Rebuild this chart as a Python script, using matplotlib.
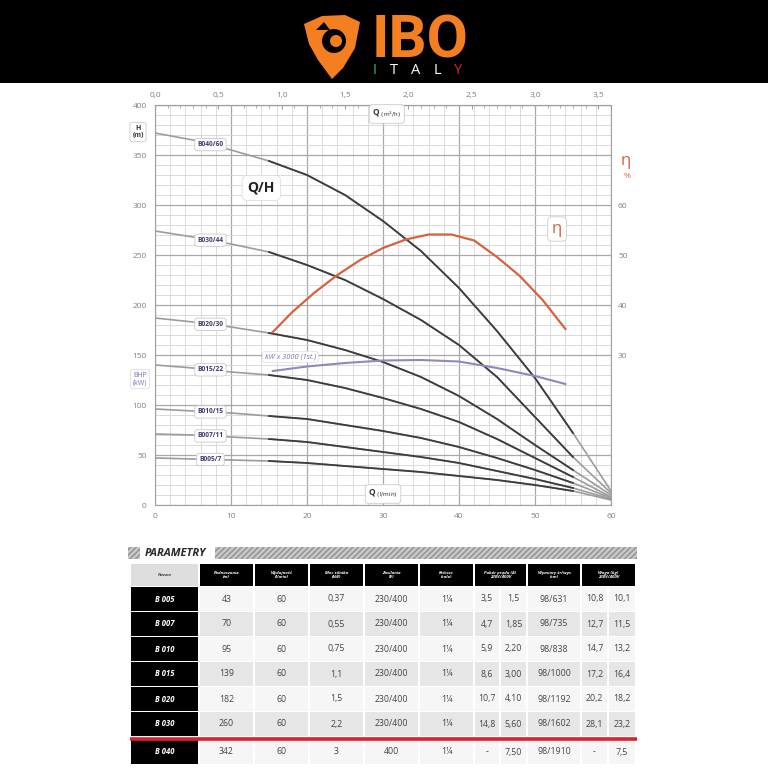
import numpy as np
import matplotlib.pyplot as plt
from matplotlib.patches import Rectangle, Polygon, Circle
from matplotlib.ticker import MultipleLocator, FixedLocator, FuncFormatter

plt.rcParams['font.family'] = ['Open Sans', 'DejaVu Sans']

# flow in l/min and head in m
q = [0, 5, 10, 15, 20, 25, 30, 35, 40, 45, 50, 55, 60]
h_b040 = [372, 365, 355, 344, 330, 310, 284, 254, 217, 174, 127, 72, 14]
h_b030 = [274, 268, 261, 253, 240, 225, 206, 185, 160, 128, 88, 48, 12]
h_b020 = [187, 183, 178, 172, 165, 155, 143, 128, 109, 86, 60, 35, 10]
h_b015 = [140, 137, 133, 130, 125, 117, 107, 96, 83, 66, 47, 28, 8]
h_b010 = [96, 94, 92, 89, 86, 80, 74, 67, 58, 47, 35, 22, 7]
h_b007 = [71, 70, 68, 66, 63, 58, 53, 48, 42, 34, 26, 17, 6]
h_b005 = [47, 46, 45, 44, 42, 39, 36, 33, 29, 25, 20, 14, 5]
pump_names = ['B040/60', 'B030/44', 'B020/30', 'B015/22', 'B010/15', 'B007/11', 'B005/7']
pump_heads = [h_b040, h_b030, h_b020, h_b015, h_b010, h_b007, h_b005]

# efficiency (%) and power curve
eta_q = [15.5, 18, 21, 24, 27, 30, 33, 36, 39, 42, 45, 48, 51, 54]
eta = [34.6, 38.5, 42.5, 46, 49, 51.4, 53.1, 54.1, 54.1, 52.9, 49.6, 45.8, 41, 35.2]
kw_q = [15.5, 20, 25, 30, 35, 40, 45, 50, 54]
kw = [134, 138.5, 142, 144.5, 145, 143.5, 137, 129, 121]

# table
col_heads = ['Nazwa', 'Podnoszenie\n(m)', 'Wydajność\n(l/min)', 'Moc silnika\n(kW)',
             'Zasilanie\n(V)', 'Króciec\n(cale)', 'Pobór prądu (A)\n230V/400V',
             'Wymiary śr/wys\n(cm)', 'Waga (kg)\n230V/400V']
models = ['B 005', 'B 007', 'B 010', 'B 015', 'B 020', 'B 030', 'B 040']
lift = ['43', '70', '95', '139', '182', '260', '342']
flow = ['60', '60', '60', '60', '60', '60', '60']
power = ['0,37', '0,55', '0,75', '1,1', '1,5', '2,2', '3']
supply = ['230/400'] * 6 + ['400']
port = ['1¼'] * 7
amp_230 = ['3,5', '4,7', '5,9', '8,6', '10,7', '14,8', '-']
amp_400 = ['1,5', '1,85', '2,20', '3,00', '4,10', '5,60', '7,50']
dims = ['98/631', '98/735', '98/838', '98/1000', '98/1192', '98/1602', '98/1910']
w_230 = ['10,8', '12,7', '14,7', '17,2', '20,2', '28,1', '-']
w_400 = ['10,1', '11,5', '13,2', '16,4', '18,2', '23,2', '7,5']

fig = plt.figure(figsize=(7.68, 7.68), dpi=100)
W = 768.0

def fx(px):
    return px / W

def fy(py):
    return 1 - py / W

ax = fig.add_axes([fx(155), fy(505), fx(611) - fx(155), fy(105) - fy(505)])
ax.set_xlim(0, 60)
ax.set_ylim(0, 400)
ax.xaxis.set_major_locator(MultipleLocator(10))
ax.xaxis.set_minor_locator(MultipleLocator(2))
ax.yaxis.set_major_locator(MultipleLocator(50))
ax.yaxis.set_minor_locator(MultipleLocator(10))
ax.grid(which='minor', color='#d4d4d4', lw=0.6)
ax.grid(which='major', color='#a8a8a8', lw=0.9)
ax.set_axisbelow(True)
for s in ax.spines.values():
    s.set_color('#a0a0a0')
    s.set_linewidth(0.8)
ax.tick_params(which='both', length=0, labelsize=6, labelcolor='#808080', pad=6)

for name, h in zip(pump_names, pump_heads):
    ax.plot(q, h, color='#9c9c9c', lw=1.2, zorder=3)
    ax.plot(q[3:12], h[3:12], color='#3c3c3c', lw=1.3, zorder=4)
    ax.text(7.3, np.interp(7.3, q, h), name, fontsize=4.8, color='#3a3a6e',
            fontweight='bold', ha='center', va='center', zorder=6,
            bbox=dict(boxstyle='round,pad=0.4', fc='white', ec='#c8c8c8', lw=0.6))

ax.plot(kw_q, kw, color='#9186bf', lw=1.5, zorder=5)
ax.text(17.8, 148, 'kW x 3000 (1st.)', fontsize=5.3, color='#7a6fb0', style='italic',
        ha='center', va='center', zorder=6,
        bbox=dict(boxstyle='round,pad=0.3', fc='white', ec='#dddddd', lw=0.5))

ax2 = ax.twinx()
ax2.set_ylim(0, 80)
ax2.yaxis.set_major_locator(FixedLocator([30, 40, 50, 60]))
ax2.tick_params(length=0, labelsize=6, labelcolor='#808080', pad=5)
for s in ax2.spines.values():
    s.set_visible(False)
ax2.plot(eta_q, eta, color='#d8613e', lw=1.6, zorder=5)

top = ax.secondary_xaxis('top', functions=(lambda v: v * 0.06, lambda v: v / 0.06))
top.xaxis.set_major_locator(MultipleLocator(0.5))
top.xaxis.set_minor_locator(MultipleLocator(0.1))
top.xaxis.set_major_formatter(FuncFormatter(lambda v, p: f'{v:.1f}'.replace('.', ',')))
top.tick_params(which='major', direction='in', length=3, color='#a0a0a0',
                labelsize=6, labelcolor='#808080', pad=4)
top.tick_params(which='minor', direction='in', length=2, color='#a0a0a0')
top.spines['top'].set_color('#a0a0a0')

box = dict(boxstyle='round,pad=0.35', fc='white', ec='#cccccc', lw=0.6)
ax.text(30.5, 391, r'Q $_{\mathrm{(m^3/h)}}$', fontsize=6, fontweight='bold', color='#333333',
        ha='center', va='center', bbox=box, zorder=7)
ax.text(30.0, 11, r'Q $_{\mathrm{(l/min)}}$', fontsize=6, fontweight='bold', color='#333333',
        ha='center', va='center', bbox=box, zorder=7)
ax.text(14.0, 317, 'Q/H', fontsize=10, fontweight='bold', color='#222222',
        ha='center', va='center', zorder=7,
        bbox=dict(boxstyle='round,pad=0.4', fc='white', ec='#dddddd', lw=0.6))
ax2.text(52.9, 55.2, 'η', fontsize=12, color='#d8613e', ha='center', va='center', zorder=7,
         bbox=dict(boxstyle='round,pad=0.25', fc='white', ec='#cccccc', lw=0.6))

# overlay in pixel coordinates for header, side labels and table
ov = fig.add_axes([0, 0, 1, 1])
ov.set_xlim(0, W)
ov.set_ylim(W, 0)
ov.axis('off')

ov.add_patch(Rectangle((0, 0), W, 83, fc='black', ec='none'))
ov.add_patch(Polygon([(304, 24), (322, 16), (345, 15), (360, 22), (355, 48),
                      (343, 68), (332, 79), (318, 60), (309, 44)],
                     closed=True, fc='#f47f20', ec='none'))
ov.add_patch(Circle((334, 41), 12, fc='black', ec='none'))
ov.add_patch(Circle((336, 41), 6, fc='#f47f20', ec='none'))
ov.add_patch(Polygon([(316, 30), (324, 22), (330, 30)], fc='black', ec='none'))
ov.text(420, 58, 'IBO', fontsize=43, fontweight='bold', color='#f47f20', ha='center',
        va='baseline', family=['Roboto', 'DejaVu Sans'])
for ch, x, c in zip('ITALY', [375, 394, 416, 437, 458], ['#2bb673', 'white', 'white', 'white', '#e8262d']):
    ov.text(x, 70, ch, fontsize=10.5, color=c, ha='center', va='center')

ov.text(138, 132, 'H\n(m)', fontsize=5, fontweight='bold', color='#333333', ha='center', va='center',
        linespacing=1.1, bbox=dict(boxstyle='round,pad=0.35', fc='white', ec='#cccccc', lw=0.6))
ov.text(140, 379, 'BHP\n(kW)', fontsize=5, color='#7a6fb0', ha='center', va='center',
        linespacing=1.1, bbox=dict(boxstyle='round,pad=0.35', fc='white', ec='#dddddd', lw=0.6))
ov.text(626, 161, 'η', fontsize=12, color='#d8613e', ha='center', va='center')
ov.text(627, 176, '%', fontsize=6, color='#d8613e', ha='center', va='center')

# PARAMETRY section
ov.add_patch(Rectangle((128, 547), 12, 12, fc='#c8c8c8', ec='#909090', hatch='//////', lw=0))
ov.add_patch(Rectangle((215, 547), 422, 12, fc='#c8c8c8', ec='#909090', hatch='//////', lw=0))
ov.text(145, 553, 'PARAMETRY', fontsize=8, fontweight='bold', style='italic', color='#2a2a2a',
        ha='left', va='center')

cols = [130, 199, 254, 309, 364, 419, 474, 527, 581, 636]
head_top, head_bot = 564, 586
for i, label in enumerate(col_heads):
    x0, x1 = cols[i], cols[i + 1]
    fc = '#dedede' if i == 0 else 'black'
    tc = '#444444' if i == 0 else 'white'
    ov.add_patch(Rectangle((x0 + 1, head_top), x1 - x0 - 2, head_bot - head_top, fc=fc, ec='none'))
    ov.text((x0 + x1) / 2, (head_top + head_bot) / 2, label, fontsize=3.2, fontweight='bold',
            style='italic', color=tc, ha='center', va='center', linespacing=1.2)

row_tops = [587, 612, 637, 662, 687, 712, 740]
row_h = 24
for r, m in enumerate(models):
    y0 = row_tops[r]
    yc = y0 + row_h / 2
    bg = '#f6f6f6' if r % 2 == 0 else '#e6e6e6'
    ov.add_patch(Rectangle((cols[0] + 1, y0), cols[1] - cols[0] - 2, row_h, fc='black', ec='none'))
    ov.text((cols[0] + cols[1]) / 2, yc, m, fontsize=5.5, fontweight='bold', style='italic',
            color='white', ha='center', va='center')
    spans = [(199, 254), (254, 309), (309, 364), (364, 419), (419, 474),
             (474, 500), (500, 527), (527, 581), (581, 608), (608, 636)]
    vals = [lift[r], flow[r], power[r], supply[r], port[r], amp_230[r], amp_400[r],
            dims[r], w_230[r], w_400[r]]
    for (x0, x1), v in zip(spans, vals):
        ov.add_patch(Rectangle((x0 + 1, y0), x1 - x0 - 2, row_h, fc=bg, ec='none'))
        ov.text((x0 + x1) / 2, yc, v, fontsize=6.3, color='#444444', ha='center', va='center')

ov.plot([130, 637], [738.5, 738.5], color='#e0202a', lw=2.6, solid_capstyle='butt')

fig.savefig('out.png', dpi=100)
